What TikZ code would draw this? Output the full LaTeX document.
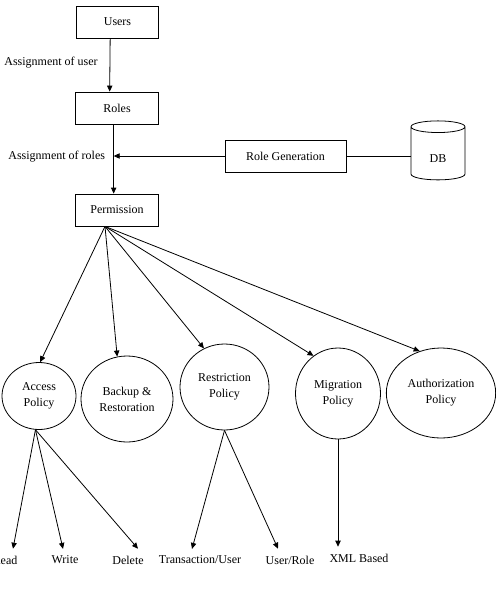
\documentclass[tikz,border=0pt]{standalone}
\usepackage{fontspec}
\setmainfont{Liberation Serif}
\usetikzlibrary{arrows.meta,shapes.geometric}
\tikzset{
  box/.style={draw,rectangle,minimum width=62pt,minimum height=24pt,inner sep=0pt},
  policy/.style={draw,ellipse,align=center,inner sep=0pt},
  leaf/.style={inner xsep=0pt,inner ysep=5pt},
  note/.style={anchor=west,inner sep=0pt},
  arr/.style={-{Triangle[length=4.5pt,width=4pt]}},
}
\begin{document}
\begin{tikzpicture}[x=0.75pt,y=-0.75pt,line width=0.6pt,font=\fontsize{9}{12}\selectfont]
    \useasboundingbox (0,0) rectangle (496,593);

    % kotak atas
    \node[box] (users) at (117.5,22) {Users};
    \node[box] (roles) at (117,108) {Roles};
    \node[box] (perm) at (117,210) {Permission};
    \node[box,minimum width=90.75pt] (rolegen) at (285.5,156) {Role Generation};
    \node[draw,cylinder,shape border rotate=90,aspect=0.7,inner sep=0pt,
          minimum width=40.5pt,minimum height=44.25pt] (db) at (438,153.5) {\raisebox{-7pt}[0pt][0pt]{DB}};

    % keterangan
    \node[note] (asguser) at (4,63) {Assignment of user};
    \node[note] (asgrole) at (8,157) {Assignment of roles};

    % panah atas
    \draw[arr] ([xshift=-5.5pt]users.south) -- ([xshift=-5.5pt]roles.north);
    \draw[arr] ([xshift=-2.5pt]roles.south) -- ([xshift=-2.5pt]perm.north);
    \coordinate (join) at ([xshift=-2.5pt]roles.south |- rolegen.west);
    \draw[arr] (rolegen.west) -- (join);
    \draw (rolegen.east) -- (rolegen.east -| db.west);

    % kebijakan
    \node[policy,minimum width=55.5pt,minimum height=50.25pt] (access) at (39,396) {Access\\Policy};
    \node[policy,minimum width=69pt,minimum height=64.5pt] (backup) at (127,399) {Backup \&\\Restoration};
    \node[policy,minimum width=66.75pt,minimum height=64.5pt] (restr) at (224.5,387) {Restriction\\Policy};
    \node[policy,minimum width=63.75pt,minimum height=68.25pt] (migr) at (338,393.5) {Migration\\Policy};
    \node[policy,minimum width=82pt,minimum height=67.5pt] (authz) at (441,393) {Authorization\\Policy};

    % panah ke kebijakan
    \coordinate (fan) at ([xshift=-9pt]perm.south);
    \draw[arr] (fan) -- (access.88);
    \draw[arr] (fan) -- (backup.103);
    \draw[arr] (fan) -- (restr.118);
    \draw[arr] (fan) -- (migr.123);
    \draw[arr] (fan) -- (authz.117);

    % daun
    \node[leaf] (read) at (5,560) {Read};
    \node[leaf] (write) at (65,560) {Write};
    \node[leaf] (del) at (128,560) {Delete};
    \node[leaf] (trans) at (200,560) {Transaction/User};
    \node[leaf] (urole) at (290,560) {User/Role};
    \node[leaf] (xml) at (359,558) {XML Based};

    % panah bawah
    \draw[arr] (access.264) -- ([xshift=6pt]read.north);
    \draw[arr] (access.264) -- ([xshift=-1.5pt]write.north);
    \draw[arr] (access.264) -- ([xshift=7.5pt]del.north);
    \draw[arr] (restr.south) -- ([xshift=-6pt]trans.north);
    \draw[arr] (restr.south) -- ([xshift=-9pt]urole.north);
    \draw[arr] (migr.south) -- (migr.south |- xml.north);
\end{tikzpicture}
\end{document}
